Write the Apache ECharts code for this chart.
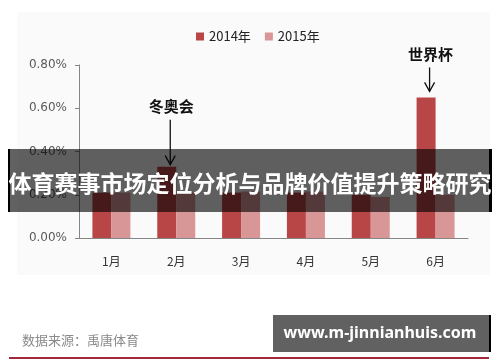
<!DOCTYPE html>
<html><head><meta charset="utf-8">
<script src="https://cdn.jsdelivr.net/npm/echarts@6/dist/echarts.min.js"></script>
<style>html,body{margin:0;padding:0;background:#fff}#c{width:500px;height:362px}</style>
</head><body><div id="c"></div>
<script>
const months = ['1月','2月','3月','4月','5月','6月'];
const seriesNames = ['2014年','2015年'];
const share2014 = [0.21, 0.33, 0.21, 0.21, 0.20, 0.65];
const share2015 = [0.21, 0.21, 0.215, 0.215, 0.19, 0.20];
const yTicks = [0, 0.2, 0.4, 0.6, 0.8];
const annotations = [
  {text: '冬奥会', month: '2月', seriesIndex: 0},
  {text: '世界杯', month: '6月', seriesIndex: 0}
];
const bannerTitle = '体育赛事市场定位分析与品牌价值提升策略研究';
const sourceText = '数据来源：禹唐体育';
const watermark = 'www.m-jinnianhuis.com';

const annoLayout = [{arrowLen: 45, gap: 2}, {arrowLen: 24, gap: 6}];
const colors = ['#b94646', '#d99696'];
const cjk = '"Noto Sans CJK SC", sans-serif';

const chart = echarts.init(document.getElementById('c'), null, {renderer: 'canvas'});
const allSeries = [share2014, share2015];
chart.setOption({
  animation: false,
  backgroundColor: '#ffffff',
  color: colors,
  legend: {
    data: seriesNames, top: 25, left: 191, icon: 'rect', itemWidth: 8, itemHeight: 8, itemGap: 14,
    textStyle: {fontSize: 13, color: '#222', fontFamily: cjk}
  },
  grid: {left: 79, right: 32, top: 65, bottom: 124},
  xAxis: {
    type: 'category', data: months,
    axisLine: {lineStyle: {color: '#868686'}},
    axisTick: {length: 5, lineStyle: {color: '#868686'}},
    axisLabel: {margin: 17, fontSize: 12, color: '#333', fontFamily: cjk}
  },
  yAxis: {
    type: 'value', min: yTicks[0], max: yTicks[yTicks.length - 1], interval: yTicks[1] - yTicks[0],
    axisLine: {show: true, lineStyle: {color: '#868686'}},
    axisTick: {show: true, length: 4, lineStyle: {color: '#868686'}},
    splitLine: {show: false},
    axisLabel: {margin: 12, fontSize: 12, color: '#5a5a5a', fontFamily: '"DejaVu Sans", sans-serif',
      formatter: v => v.toFixed(2) + '%'}
  },
  series: seriesNames.map((n, i) => ({
    name: n, type: 'bar', data: allSeries[i], barWidth: 19, barGap: '0%',
    itemStyle: {color: colors[i]}
  }))
});

const g = [];
g.push({type: 'rect', shape: {x: 17, y: 12, width: 473, height: 263}, style: {fill: '#fafafa'}, z: -10, silent: true});
annotations.forEach((a, k) => {
  const idx = months.indexOf(a.month);
  const val = allSeries[a.seriesIndex][idx];
  const p = chart.convertToPixel({xAxisIndex: 0, yAxisIndex: 0}, [a.month, val]);
  const x = p[0] - 6;
  const tip = p[1] - annoLayout[k].gap;
  const top = tip - annoLayout[k].arrowLen;
  g.push({type: 'line', shape: {x1: x, y1: top, x2: x, y2: tip}, style: {stroke: '#111', lineWidth: 1.3}, z: 50});
  g.push({type: 'polyline', shape: {points: [[x - 5, tip - 9], [x, tip], [x + 5, tip - 9]]}, style: {stroke: '#111', lineWidth: 1.3, fill: null}, z: 50});
  g.push({type: 'text', x: x + 1, y: top - 13, style: {text: a.text, fill: '#111', font: 'bold 15px ' + cjk, textAlign: 'center', textVerticalAlign: 'middle'}, z: 50});
});
// banner
g.push({type: 'rect', shape: {x: 8, y: 149, width: 484, height: 63}, style: {fill: 'rgba(0,0,0,0.62)'}, z: 100});
g.push({type: 'rect', shape: {x: 8, y: 149, width: 2, height: 63}, style: {fill: '#000'}, z: 101});
g.push({type: 'rect', shape: {x: 489, y: 149, width: 3, height: 63}, style: {fill: '#000'}, z: 101});
g.push({type: 'text', x: 250, y: 183, style: {text: bannerTitle, fill: '#fff', font: 'bold 23px ' + cjk, textAlign: 'center', textVerticalAlign: 'middle'}, z: 102});
// source
g.push({type: 'text', x: 22, y: 340, style: {text: sourceText, fill: '#8a8a8a', font: '13px ' + cjk, textAlign: 'left', textVerticalAlign: 'middle'}, z: 20});
// watermark box
g.push({type: 'rect', shape: {x: 273, y: 315, width: 218, height: 37}, style: {fill: 'rgba(0,0,0,0.62)'}, z: 100});
g.push({type: 'rect', shape: {x: 489, y: 315, width: 2, height: 37}, style: {fill: '#000'}, z: 101});
g.push({type: 'text', x: 380, y: 333, style: {text: watermark, fill: '#fff', font: 'bold 16px "Noto Sans", sans-serif', textAlign: 'center', textVerticalAlign: 'middle'}, z: 102});
// bottom line
g.push({type: 'rect', shape: {x: 9, y: 357, width: 480, height: 2}, style: {fill: '#a0283a'}, z: 20});
chart.setOption({graphic: g});
</script></body></html>
